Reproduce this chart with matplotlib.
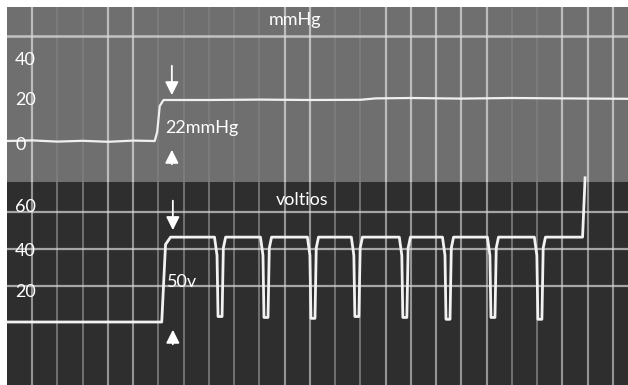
import numpy as np
import matplotlib.pyplot as plt

# pressure trace (mmHg) - breakpoints
press_t = [0.0, 1.0, 2.0, 3.0, 4.0, 5.0, 5.85, 5.95, 6.05, 6.2, 8.0, 10.0, 12.0, 14.0, 14.6, 16.0, 18.0, 20.0, 22.0, 24.6]
press_v = [-0.5, -0.2, -0.8, -0.4, -0.9, -0.3, -0.5, 4.0, 17.0, 20.0, 20.0, 20.2, 20.0, 20.1, 20.8, 21.0, 20.7, 21.0, 20.8, 20.6]

# voltage trace (voltios)
rise_t = 6.18
plateau_v = 46.5
dip_t = [8.44, 10.26, 12.12, 13.86, 15.76, 17.47, 19.25, 21.11]
dip_v = [3.0, 2.5, 2.0, 3.0, 2.5, 1.5, 2.5, 1.5]
end_rise_t = 22.8
end_v = 79

# grid lines (every 25 px on the strip)
grid_k = list(range(1, 25))
bright_k = [1, 4, 5, 11, 12, 15, 16, 17, 18, 19, 22, 23, 24]

# build voltage polyline from the pulse list
volt_t = [0.0, rise_t - 0.05, rise_t + 0.1, rise_t + 0.3]
volt_v = [0.0, 0.0, plateau_v - 4, plateau_v]
for c, d in zip(dip_t, dip_v):
    volt_t += [c - 0.22, c - 0.12, c - 0.08, c + 0.08, c + 0.13, c + 0.22]
    volt_v += [plateau_v, plateau_v - 10, d, d, plateau_v - 6, plateau_v]
volt_t += [end_rise_t, end_rise_t + 0.1]
volt_v += [plateau_v, end_v]

W, H = 628, 385
fig = plt.figure(figsize=(6.28, 3.85), dpi=100)
fig.patch.set_facecolor('white')

ax1 = fig.add_axes([7 / W, (H - 182) / H, 621 / W, 175 / H])
ax2 = fig.add_axes([7 / W, 0, 621 / W, 203 / H])

ax1.set_facecolor('#6f6f6f')
ax2.set_facecolor('#2e2e2e')
ax1.set_xlim(0, 24.6)
ax2.set_xlim(0, 24.6)
ax1.set_ylim(-21, 66.5)
ax2.set_ylim(-34.5, 76.7)

for ax in (ax1, ax2):
    ax.set_xticks([])
    ax.set_yticks([])
    for s in ax.spines.values():
        s.set_visible(False)

# vertical grid
for k in grid_k:
    ax1.axvline(k, color='#cfcfcf', lw=1.2, alpha=0.15, zorder=1)
    ax2.axvline(k, color='#d0d0d0', lw=1.3, alpha=0.45, zorder=1)
for k in bright_k:
    ax1.axvline(k, color='#d8d8d8', lw=1.6, alpha=0.7, zorder=1)
    ax2.axvline(k, color='#dcdcdc', lw=1.6, alpha=0.35, zorder=1)

# horizontal grid
ax1.axhline(52, color='#d8d8d8', lw=1.8, alpha=0.8, zorder=1)
for v in [60, 40, 20]:
    ax2.axhline(v, color='#d8d8d8', lw=1.6, alpha=0.7, zorder=1)

# traces
ax1.plot(press_t, press_v, color='#f0f0f0', lw=1.6, zorder=3)
ax2.plot(volt_t, volt_v, color='#f2f2f2', lw=2.0, zorder=3, clip_on=False)

font = dict(family=['Lato', 'DejaVu Sans'], color='white', fontsize=13)

# scale labels
for v, y in [('40', 40), ('20', 20), ('0', -2.5)]:
    ax1.text(0.32, y, v, va='center', ha='left', **font)
for v, y in [('60', 63), ('40', 39), ('20', 16.4)]:
    ax2.text(0.32, y, v, va='center', ha='left', **font)

ax1.text(11.4, 60, 'mmHg', va='center', ha='center', **font)
ax2.text(11.7, 66.8, 'voltios', va='center', ha='center', **font)
ax1.text(6.26, 6, '22mmHg', va='center', ha='left', **font)
ax2.text(6.33, 21.9, '50v', va='center', ha='left', **font)

arrow = dict(arrowstyle='-|>', color='white', lw=1.3, mutation_scale=20)
ax1.annotate('', xy=(6.53, 21), xytext=(6.53, 38.5), arrowprops=arrow)
ax1.annotate('', xy=(6.53, -3.5), xytext=(6.53, -13.5), arrowprops=arrow)
ax2.annotate('', xy=(6.57, 48.8), xytext=(6.57, 68), arrowprops=arrow)
ax2.annotate('', xy=(6.57, -2.7), xytext=(6.57, -13.7), arrowprops=arrow)

fig.savefig('out.png', dpi=100)
